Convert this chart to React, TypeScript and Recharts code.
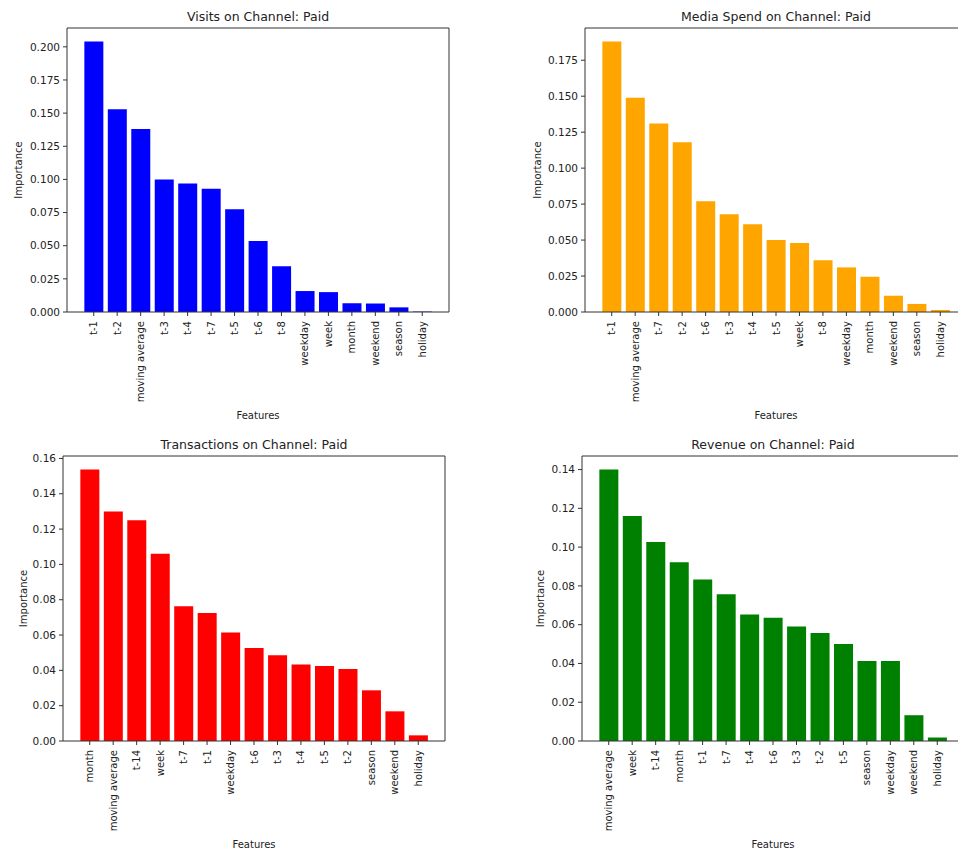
import { BarChart, Bar, XAxis, YAxis } from 'recharts';

// feature importances (sorted as shown)
const visitsFeatures = ['t-1', 't-2', 'moving average', 't-3', 't-4', 't-7', 't-5', 't-6', 't-8', 'weekday', 'week', 'month', 'weekend', 'season', 'holiday'];
const visitsValues = [0.204, 0.153, 0.138, 0.1, 0.097, 0.093, 0.0775, 0.0535, 0.0345, 0.0158, 0.015, 0.0066, 0.0064, 0.0035, 0.0003];
const visitsTicks = [0, 0.025, 0.05, 0.075, 0.1, 0.125, 0.15, 0.175, 0.2];

const spendFeatures = ['t-1', 'moving average', 't-7', 't-2', 't-6', 't-3', 't-4', 't-5', 'week', 't-8', 'weekday', 'month', 'weekend', 'season', 'holiday'];
const spendValues = [0.188, 0.149, 0.131, 0.118, 0.077, 0.068, 0.061, 0.05, 0.048, 0.036, 0.031, 0.0245, 0.0113, 0.0056, 0.0014];
const spendTicks = [0, 0.025, 0.05, 0.075, 0.1, 0.125, 0.15, 0.175];

const transFeatures = ['month', 'moving average', 't-14', 'week', 't-7', 't-1', 'weekday', 't-6', 't-3', 't-4', 't-5', 't-2', 'season', 'weekend', 'holiday'];
const transValues = [0.1537, 0.13, 0.125, 0.106, 0.0763, 0.0725, 0.0614, 0.0527, 0.0486, 0.0433, 0.0425, 0.0408, 0.0287, 0.0168, 0.0032];
const transTicks = [0, 0.02, 0.04, 0.06, 0.08, 0.1, 0.12, 0.14, 0.16];

const revenueFeatures = ['moving average', 'week', 't-14', 'month', 't-1', 't-7', 't-4', 't-6', 't-3', 't-2', 't-5', 'season', 'weekday', 'weekend', 'holiday'];
const revenueValues = [0.14, 0.116, 0.1027, 0.0922, 0.0833, 0.0757, 0.0652, 0.0636, 0.059, 0.0557, 0.05, 0.0413, 0.0413, 0.0133, 0.0018];
const revenueTicks = [0, 0.02, 0.04, 0.06, 0.08, 0.1, 0.12, 0.14];

const FONT = '"DejaVu Sans", sans-serif';
const TEXT = '#222';
const SPINE = '#333';
const PLOT_W = 382;

interface Layout {
  left: number;
  top: number;
  width: number;
  height: number;
  yAxisWidth: number;
  marginTop: number;
  marginRight: number;
  labelOffset: number;
}

interface PanelProps {
  title: string;
  features: string[];
  values: number[];
  ticks: number[];
  decimals: number;
  color: string;
  layout: Layout;
}

function RotatedTick({ x, y, payload }: any) {
  return (
    <text
      x={0}
      y={0}
      transform={`translate(${x},${y + 3}) rotate(-90)`}
      textAnchor="end"
      dominantBaseline="central"
      fontSize={10}
      fill={TEXT}
    >
      {payload.value}
    </text>
  );
}

function ImportancePanel({ title, features, values, ticks, decimals, color, layout }: PanelProps) {
  const data = features.map((name, i) => ({ name, value: values[i] }));
  const plotTop = layout.top + layout.marginTop;

  return (
    <>
      <div style={{
        position: 'absolute', left: layout.left + layout.yAxisWidth, top: plotTop - 19,
        width: PLOT_W, textAlign: 'center', fontSize: 12.5, lineHeight: '15px', color: TEXT,
      }}>
        {title}
      </div>
      <div style={{ position: 'absolute', left: layout.left, top: layout.top }}>
        <BarChart
          width={layout.width}
          height={layout.height}
          data={data}
          margin={{ top: layout.marginTop, right: layout.marginRight, bottom: 0, left: 0 }}
          barCategoryGap="10%"
        >
          <XAxis
            dataKey="name"
            interval={0}
            height={110}
            padding={{ left: 15, right: 15 }}
            tickSize={4}
            tickMargin={2}
            stroke={SPINE}
            tick={<RotatedTick />}
            label={{ value: 'Features', position: 'insideBottom', offset: 3, style: { fontSize: 10, fill: TEXT } }}
          />
          {/* top spine */}
          <XAxis xAxisId="top" dataKey="name" orientation="top" mirror tick={false} tickLine={false} stroke={SPINE} />
          <YAxis
            width={layout.yAxisWidth}
            domain={[0, (max: number) => max * 1.05]}
            ticks={ticks}
            interval={0}
            tickSize={4}
            tickMargin={3}
            stroke={SPINE}
            tickFormatter={(v: number) => v.toFixed(decimals)}
            tick={{ fontSize: 10.5, fill: TEXT }}
            label={{
              value: 'Importance', angle: -90, position: 'insideLeft', offset: layout.labelOffset,
              style: { textAnchor: 'middle', fontSize: 10, fill: TEXT },
            }}
          />
          {/* right spine */}
          <YAxis yAxisId="right" orientation="right" type="number" domain={[0, 1]} mirror tick={false} tickLine={false} stroke={SPINE} />
          <Bar dataKey="value" fill={color} isAnimationActive={false} />
        </BarChart>
      </div>
    </>
  );
}

export default function App() {
  return (
    <div style={{
      position: 'absolute', left: 0, top: 0, width: 958, height: 853, overflow: 'hidden',
      background: '#fff', fontFamily: FONT,
    }}>
      <ImportancePanel
        title="Visits on Channel: Paid"
        features={visitsFeatures}
        values={visitsValues}
        ticks={visitsTicks}
        decimals={3}
        color="#0000ff"
        layout={{ left: 0, top: 0, width: 479, height: 422, yAxisWidth: 67, marginTop: 28, marginRight: 30, labelOffset: 18 }}
      />
      <ImportancePanel
        title="Media Spend on Channel: Paid"
        features={spendFeatures}
        values={spendValues}
        ticks={spendTicks}
        decimals={3}
        color="#ffa500"
        layout={{ left: 479, top: 0, width: 500, height: 422, yAxisWidth: 106, marginTop: 28, marginRight: 12, labelOffset: 58 }}
      />
      <ImportancePanel
        title="Transactions on Channel: Paid"
        features={transFeatures}
        values={transValues}
        ticks={transTicks}
        decimals={2}
        color="#ff0000"
        layout={{ left: 0, top: 430, width: 479, height: 421, yAxisWidth: 63, marginTop: 26, marginRight: 34, labelOffset: 23 }}
      />
      <ImportancePanel
        title="Revenue on Channel: Paid"
        features={revenueFeatures}
        values={revenueValues}
        ticks={revenueTicks}
        decimals={2}
        color="#008000"
        layout={{ left: 479, top: 430, width: 500, height: 421, yAxisWidth: 103, marginTop: 26, marginRight: 15, labelOffset: 61 }}
      />
    </div>
  );
}
